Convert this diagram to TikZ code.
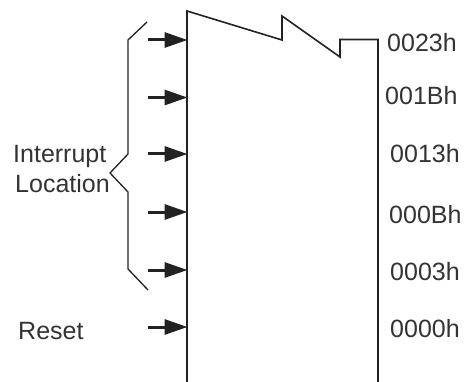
\documentclass[tikz,border=0pt]{standalone}
\usepackage{fontspec}
\setmainfont{Liberation Sans}
\usetikzlibrary{arrows.meta}
\definecolor{ink}{HTML}{222222}
\definecolor{txt}{HTML}{333333}
\tikzset{
  wall/.style={draw=ink, line width=1.6pt},
  inarrow/.style={draw=ink, line width=3pt, -{Triangle[length=23pt,width=15pt]}, shorten >=-0.5pt},
  lbl/.style={anchor=base west, inner sep=0pt, text=txt, font=\fontsize{25}{30}\selectfont},
}
\begin{document}
\begin{tikzpicture}[x=1pt,y=-1pt]
\useasboundingbox (0,0) rectangle (465,382);
% box outline
\draw[wall, line join=miter] (187,382) -- (187,11) -- (282,40) -- (282,16) -- (340,57) -- (340,39.5) -- (378,39.5) -- (378,382);
% brace
\draw[wall, line width=1.3pt] (147,22) -- (128,40) -- (128,154) -- (110,173) -- (128,192) -- (128,269) -- (148,290);
% arrows
\foreach \i/\y in {a/40,b/97.5,c/154,d/212,e/270,f/327}{
  \coordinate (s\i) at (148,\y);
  \coordinate (t\i) at (187,\y);
  \draw[inarrow] (s\i) -- (t\i);
}
% labels
\node[lbl] (l1) at (387,52) {0023h};
\node[lbl] (l2) at (385,105) {001Bh};
\node[lbl] (l3) at (390,163) {0013h};
\node[lbl] (l4) at (389,223) {000Bh};
\node[lbl] (l5) at (390,280) {0003h};
\node[lbl] (l6) at (390,337) {0000h};
\node[lbl] (int) at (13,162) {Interrupt};
\node[lbl] (loc) at (15,192) {Location};
\node[lbl] (rst) at (18,339) {Reset};
\end{tikzpicture}
\end{document}
